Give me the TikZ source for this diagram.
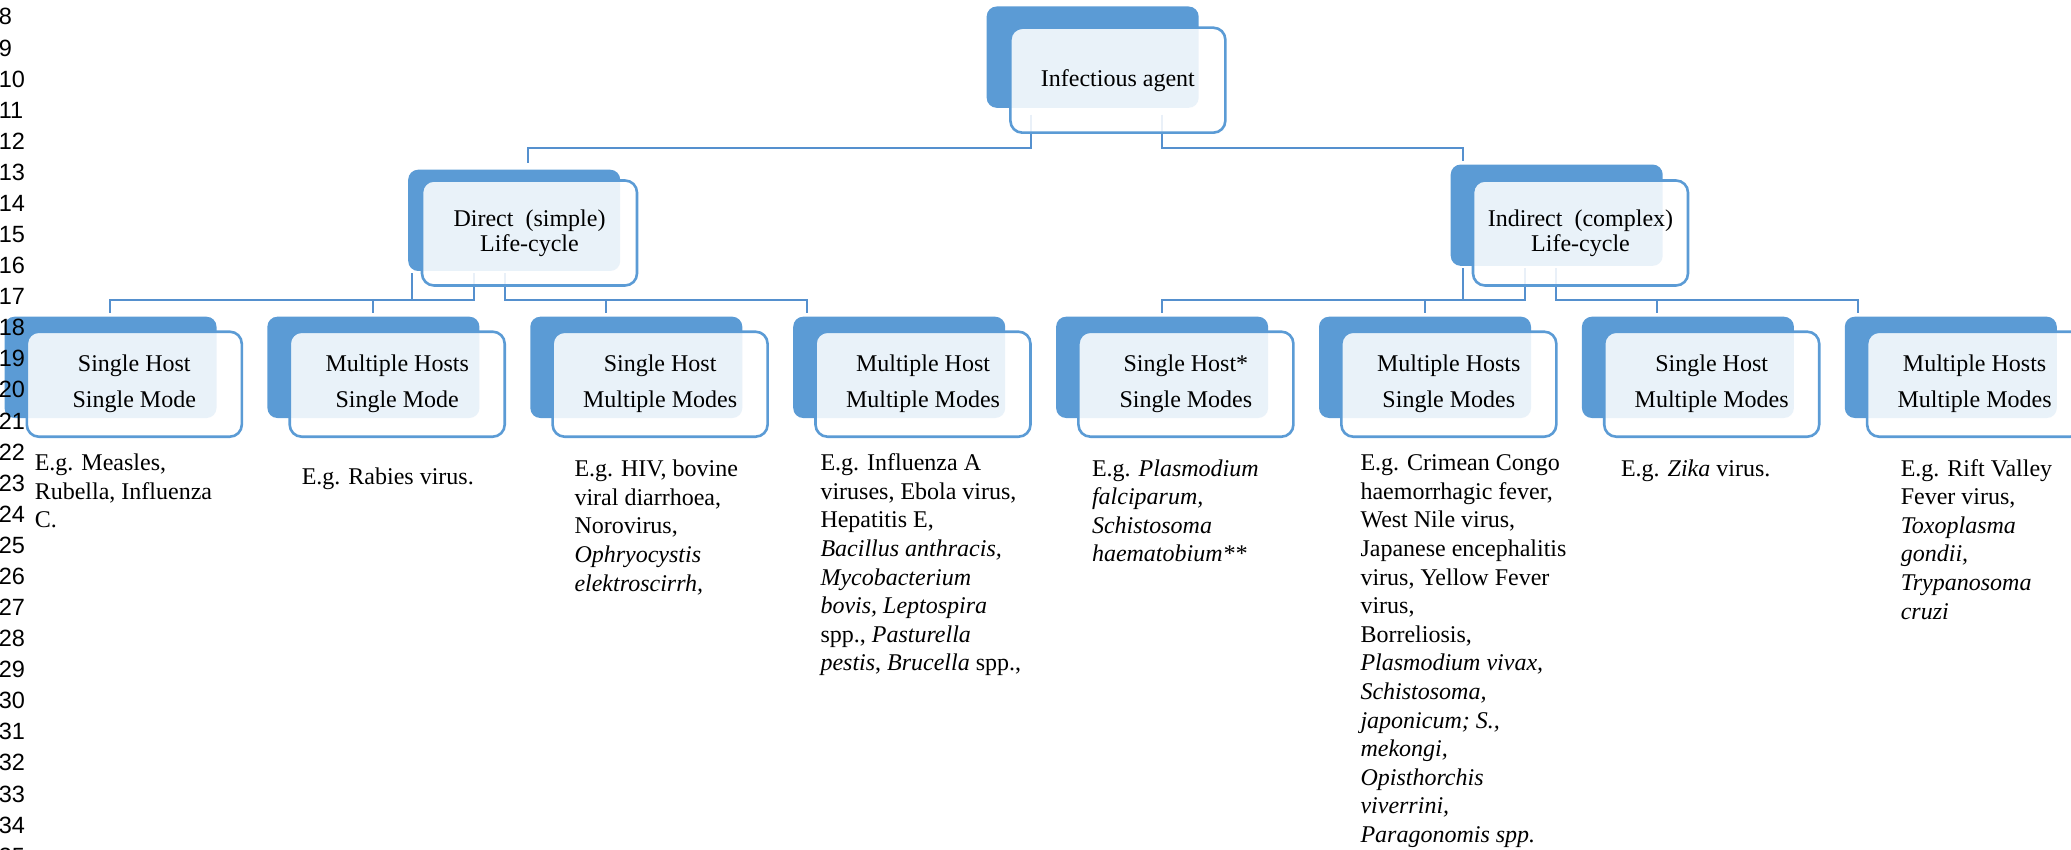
\documentclass[tikz,border=0pt]{standalone}
\usepackage{fontspec}
\setmainfont{Liberation Serif}
\newfontfamily\lnfont{Liberation Sans}
\definecolor{accblue}{HTML}{5B9BD5}
\definecolor{connblue}{HTML}{5590CE}
\begin{document}
\begin{tikzpicture}[x=0.5pt,y=-0.5pt,
  backbox/.style={fill=accblue, draw=none, rounded corners=5pt,
    minimum width=106pt, minimum height=50.65pt, inner sep=0pt, outer sep=0pt},
  frontbox/.style={draw=accblue, line width=1.3pt, fill=white, fill opacity=0.87,
    draw opacity=1, text opacity=1, rounded corners=6pt,
    minimum width=107.5pt, minimum height=52.5pt, inner sep=0pt, outer sep=0pt,
    align=center, text=black},
  toptext/.style={font=\fontsize{12}{12.5}\selectfont},
  childtext/.style={font=\fontsize{12}{18}\selectfont},
  conn/.style={draw=connblue, line width=1.1pt},
  desc/.style={anchor=north west, inner sep=0pt, outer sep=0pt, align=left,
    font=\fontsize{12}{14.3}\selectfont},
  lnum/.style={anchor=base west, inner sep=0pt, font=\lnfont\fontsize{11.75}{14}\selectfont}
]
\useasboundingbox (0,0) rectangle (2071,850);
\clip (0,0) rectangle (2071,850);

% back rectangles
\node[backbox] (bT) at (1092.65,57.15) {};
\node[backbox] (bD) at (514.2,220.35) {};
\node[backbox] (bI) at (1556.7,215.2) {};
\node[backbox] (b1) at (110.5,367.35) {};
\node[backbox] (b2) at (373.4,367.35) {};
\node[backbox] (b3) at (636.3,367.35) {};
\node[backbox] (b4) at (899.2,367.35) {};
\node[backbox] (b5) at (1162.1,367.35) {};
\node[backbox] (b6) at (1425.0,367.35) {};
\node[backbox] (b7) at (1687.9,367.35) {};
\node[backbox] (b8) at (1950.8,367.35) {};

% connectors
\draw[conn] ([shift={(44.65,7.2)}]bT.south west) -- ++(0,33) -| ([shift={(120.1,-7)}]bD.north west);
\draw[conn] ([shift={(175.35,7.2)}]bT.south west) -- ++(0,33) -| ([shift={(12.6,-3.4)}]bI.north west);

\draw[conn] ([shift={(4.1,2.3)}]bD.south west) -- ++(0,26.7) -| ([shift={(105.5,-3.4)}]b1.north west);
\draw[conn] ([shift={(66.1,2.3)}]bD.south west) -- ++(0,26.7) -| ([shift={(105.6,-3.4)}]b2.north west);
\draw[conn] ([shift={(96.8,2.3)}]bD.south west) -- ++(0,26.7) -| ([shift={(75.4,-3.4)}]b3.north west);
\draw[conn] ([shift={(96.8,2.3)}]bD.south west) -- ++(0,26.7) -| ([shift={(13.5,-3.4)}]b4.north west);

\draw[conn] ([shift={(12.6,2.45)}]bI.south west) -- ++(0,31.7) -| ([shift={(105.9,-3.4)}]b5.north west);
\draw[conn] ([shift={(74.3,2.45)}]bI.south west) -- ++(0,31.7) -| ([shift={(106,-3.4)}]b6.north west);
\draw[conn] ([shift={(105,2.45)}]bI.south west) -- ++(0,31.7) -| ([shift={(74.8,-3.4)}]b7.north west);
\draw[conn] ([shift={(105,2.45)}]bI.south west) -- ++(0,31.7) -| ([shift={(13.5,-3.4)}]b8.north west);

% front boxes
\node[frontbox,toptext] (fT) at (1117.85,80.2) {\raisebox{-1.2pt}{Infectious agent}};
\node[frontbox,toptext] (fD) at (529.5,233) {Direct\ \ (simple)\\Life-cycle};
\node[frontbox,toptext] (fI) at (1580.5,233) {Indirect\ \ (complex)\\Life-cycle};
\node[frontbox,childtext] (f1) at (134.3,384.2) {Single Host\\Single Mode};
\node[frontbox,childtext] (f2) at (397.2,384.2) {Multiple Hosts\\Single Mode};
\node[frontbox,childtext] (f3) at (660.1,384.2) {Single Host\\Multiple Modes};
\node[frontbox,childtext] (f4) at (923.0,384.2) {Multiple Host\\Multiple Modes};
\node[frontbox,childtext] (f5) at (1185.9,384.2) {Single Host*\\Single Modes};
\node[frontbox,childtext] (f6) at (1448.8,384.2) {Multiple Hosts\\Single Modes};
\node[frontbox,childtext] (f7) at (1711.7,384.2) {Single Host\\Multiple Modes};
\node[frontbox,childtext] (f8) at (1974.6,384.2) {Multiple Hosts\\Multiple Modes};

% descriptions (top = baseline - 20)
\node[desc] (d1) at (34.8,450.7) {\strut E.g. Measles,\\Rubella, Influenza\\C.};
\node[desc] (d2) at (301.8,464) {\strut E.g. Rabies virus.};
\node[desc] (d3) at (574.5,456.7) {\strut E.g. HIV, bovine\\viral diarrhoea,\\Norovirus,\\\textit{Ophryocystis}\\\textit{elektroscirrh,}};
\node[desc] (d4) at (820.5,450.7) {\strut E.g. Influenza A\\viruses, Ebola virus,\\Hepatitis E,\\\textit{Bacillus anthracis,}\\\textit{Mycobacterium}\\\textit{bovis, Leptospira}\\spp., \textit{Pasturella}\\\textit{pestis}, \textit{Brucella} spp.,};
\node[desc] (d5) at (1092,456) {\strut E.g. \textit{Plasmodium}\\\textit{falciparum,}\\\textit{Schistosoma}\\\textit{haematobium**}};
\node[desc] (d6) at (1360.5,450.7) {\strut E.g. Crimean Congo\\haemorrhagic fever,\\West Nile virus,\\Japanese encephalitis\\virus, Yellow Fever\\virus,\\Borreliosis,\\\textit{Plasmodium vivax,}\\\textit{Schistosoma,}\\\textit{japonicum; S.,}\\\textit{mekongi,}\\\textit{Opisthorchis}\\\textit{viverrini,}\\\textit{Paragonomis spp.}};
\node[desc] (d7) at (1621,456) {\strut E.g. \textit{Zika} virus.};
\node[desc] (d8) at (1900.8,456) {\strut E.g. Rift Valley\\Fever virus,\\\textit{Toxoplasma}\\\textit{gondii,}\\\textit{Trypanosoma}\\\textit{cruzi}};

% line numbers (printed on top of everything)
\foreach \n in {8,...,35} {
  \node[lnum] (ln\n) at (-1.5,{16.7+31.08*(\n-8)+8.3}) {\n};
}
\end{tikzpicture}
\end{document}
